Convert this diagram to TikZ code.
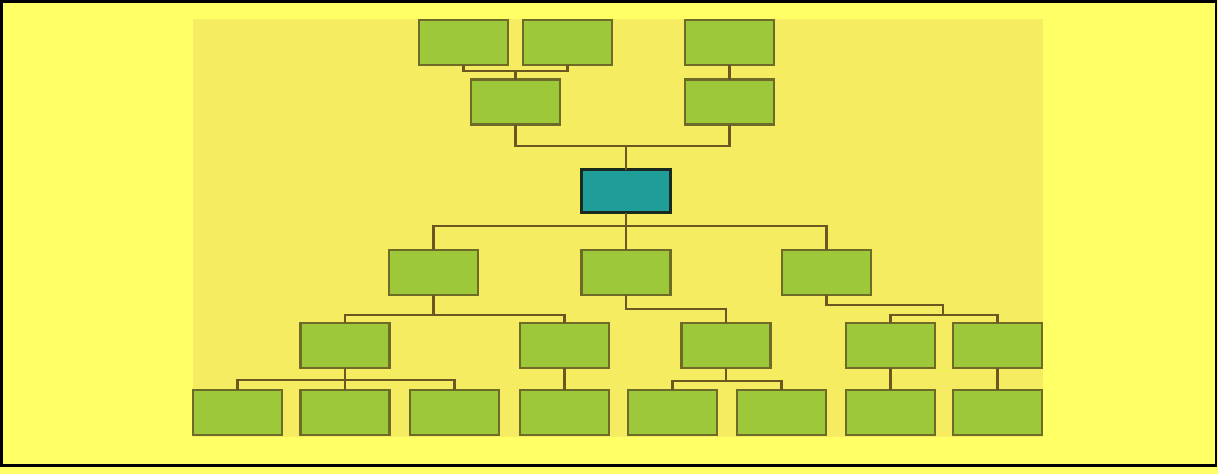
\documentclass[tikz,border=0pt]{standalone}
\usetikzlibrary{calc}
\definecolor{outerbg}{HTML}{FFFF66}
\definecolor{panelbg}{HTML}{F6EC62}
\definecolor{boxfill}{HTML}{9CC83A}
\definecolor{boxline}{HTML}{6E6A28}
\definecolor{connline}{HTML}{6B5722}
\definecolor{rootfill}{HTML}{1F9E99}
\definecolor{rootline}{HTML}{1B2A1E}
\begin{document}
\begin{tikzpicture}[x=1pt,y=-1pt,
  leaf/.style={draw=boxline,fill=boxfill,line width=2.2pt,minimum width=89pt,minimum height=45pt,inner sep=0pt,outer sep=0pt},
  rootbox/.style={leaf,draw=rootline,fill=rootfill,line width=2.6pt,minimum height=43pt},
  conn/.style={draw=connline,line width=2.2pt}]
\fill[outerbg] (0,0) rectangle (1218,474);
\draw[black,line width=2.5pt] (1.25,1.25) rectangle (1216,465.5);
\useasboundingbox (0,0) rectangle (1218,474);
\fill[panelbg] (193,19) rectangle (1043,437);
% row A
\node[leaf] (a1) at (463.5,42.5) {};
\node[leaf] (a2) at (567.5,42.5) {};
\node[leaf] (a3) at (729.5,42.5) {};
% row B
\node[leaf] (b1) at (515.5,102) {};
\node[leaf] (b2) at (729.5,102) {};
% root
\node[rootbox] (r) at (626,191) {};
% row C
\node[leaf] (c1) at (433.5,272.5) {};
\node[leaf] (c2) at (626,272.5) {};
\node[leaf] (c3) at (826.5,272.5) {};
% row D
\node[leaf] (d1) at (345,345.5) {};
\node[leaf] (d2) at (564.5,345.5) {};
\node[leaf] (d3) at (726,345.5) {};
\node[leaf] (d4) at (890.5,345.5) {};
\node[leaf] (d5) at (997.5,345.5) {};
% row E
\node[leaf] (e1) at (237.5,412.5) {};
\node[leaf] (e2) at (345,412.5) {};
\node[leaf] (e3) at (454.5,412.5) {};
\node[leaf] (e4) at (564.5,412.5) {};
\node[leaf] (e5) at (672.5,412.5) {};
\node[leaf] (e6) at (781.5,412.5) {};
\node[leaf] (e7) at (890.5,412.5) {};
\node[leaf] (e8) at (997.5,412.5) {};
% junctions
\coordinate (j3) at (943,305);
\coordinate (j4) at (943,315);
% connectors
\draw[conn] (a1.south) |- (a2.south |- 0,71) -- (a2.south);
\draw[conn] (b1.north) -- (b1.north |- 0,71);
\draw[conn] (a3.south) -- (b2.north);
\draw[conn] (b1.south) |- (b2.south |- 0,146) -- (b2.south);
\draw[conn] (r.north) -- (r.north |- 0,146);
\draw[conn] (r.south) -- (c2.north);
\draw[conn] (c1.north) |- (c3.north |- 0,226) -- (c3.north);
\draw[conn] (d1.north) |- (d2.north |- 0,315) -- (d2.north);
\draw[conn] (c1.south) -- (c1.south |- 0,315);
\draw[conn] (c2.south) |- (d3.north |- 0,309) -- (d3.north);
\draw[conn] (c3.south) |- (j3) -- (j4);
\draw[conn] (d4.north) |- (d5.north |- j4) -- (d5.north);
\draw[conn] (e1.north) |- (e3.north |- 0,380) -- (e3.north);
\draw[conn] (d1.south) -- (e2.north);
\draw[conn] (d2.south) -- (e4.north);
\draw[conn] (e5.north) |- (e6.north |- 0,381) -- (e6.north);
\draw[conn] (d3.south) -- (d3.south |- 0,381);
\draw[conn] (d4.south) -- (e7.north);
\draw[conn] (d5.south) -- (e8.north);
\end{tikzpicture}
\end{document}
